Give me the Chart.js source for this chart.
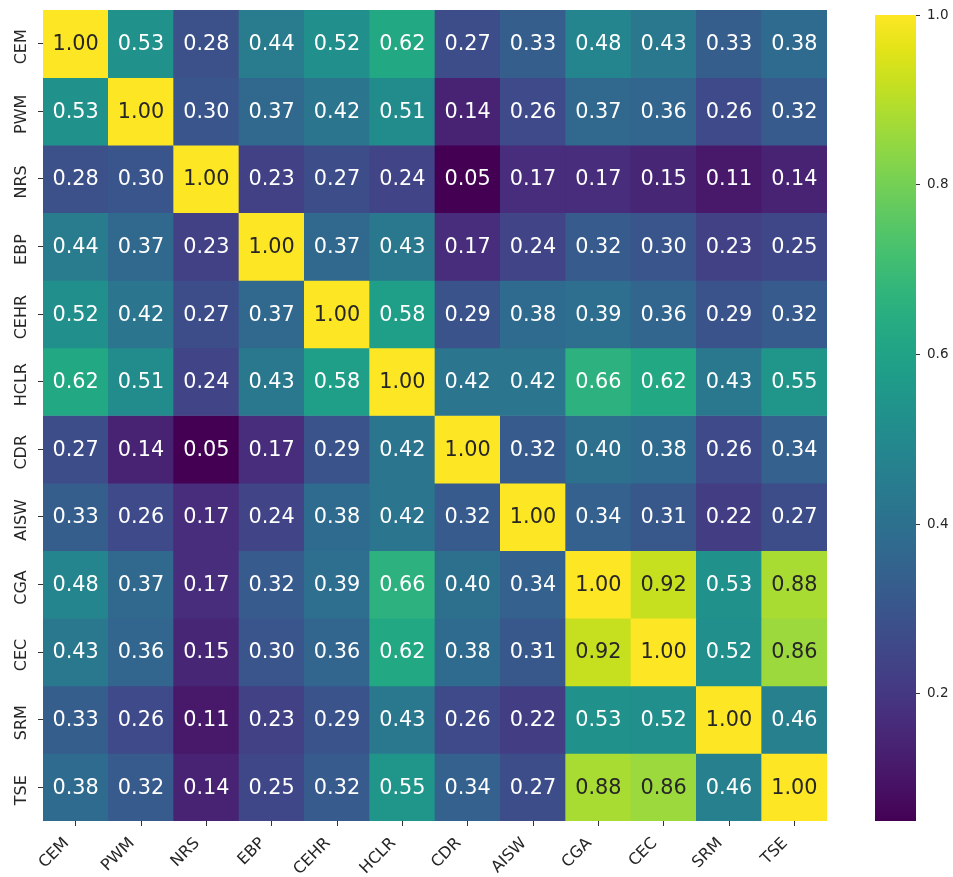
<!DOCTYPE html>
<html>
<head>
<meta charset="utf-8">
<title>Correlation heatmap</title>
<script src="https://cdn.jsdelivr.net/npm/chart.js@4.4.1/dist/chart.umd.min.js"></script>
<style>
  html, body { margin: 0; padding: 0; background: #ffffff; }
  #wrap { position: relative; width: 953px; height: 877px; }
  #heat { position: absolute; left: 0; top: 0; }
  #cbar { position: absolute; left: 860px; top: 0; }
</style>
</head>
<body>
<div id="wrap">
  <canvas id="heat" width="860" height="877"></canvas>
  <canvas id="cbar" width="93" height="877"></canvas>
</div>
<script>
// Variables (rows top to bottom, columns left to right)
const variables = ['CEM', 'PWM', 'NRS', 'EBP', 'CEHR', 'HCLR', 'CDR', 'AISW', 'CGA', 'CEC', 'SRM', 'TSE'];

// Pairwise correlation coefficients, one array per row
const rowCEM  = [1.00, 0.53, 0.28, 0.44, 0.52, 0.62, 0.27, 0.33, 0.48, 0.43, 0.33, 0.38];
const rowPWM  = [0.53, 1.00, 0.30, 0.37, 0.42, 0.51, 0.14, 0.26, 0.37, 0.36, 0.26, 0.32];
const rowNRS  = [0.28, 0.30, 1.00, 0.23, 0.27, 0.24, 0.05, 0.17, 0.17, 0.15, 0.11, 0.14];
const rowEBP  = [0.44, 0.37, 0.23, 1.00, 0.37, 0.43, 0.17, 0.24, 0.32, 0.30, 0.23, 0.25];
const rowCEHR = [0.52, 0.42, 0.27, 0.37, 1.00, 0.58, 0.29, 0.38, 0.39, 0.36, 0.29, 0.32];
const rowHCLR = [0.62, 0.51, 0.24, 0.43, 0.58, 1.00, 0.42, 0.42, 0.66, 0.62, 0.43, 0.55];
const rowCDR  = [0.27, 0.14, 0.05, 0.17, 0.29, 0.42, 1.00, 0.32, 0.40, 0.38, 0.26, 0.34];
const rowAISW = [0.33, 0.26, 0.17, 0.24, 0.38, 0.42, 0.32, 1.00, 0.34, 0.31, 0.22, 0.27];
const rowCGA  = [0.48, 0.37, 0.17, 0.32, 0.39, 0.66, 0.40, 0.34, 1.00, 0.92, 0.53, 0.88];
const rowCEC  = [0.43, 0.36, 0.15, 0.30, 0.36, 0.62, 0.38, 0.31, 0.92, 1.00, 0.52, 0.86];
const rowSRM  = [0.33, 0.26, 0.11, 0.23, 0.29, 0.43, 0.26, 0.22, 0.53, 0.52, 1.00, 0.46];
const rowTSE  = [0.38, 0.32, 0.14, 0.25, 0.32, 0.55, 0.34, 0.27, 0.88, 0.86, 0.46, 1.00];

// Colorbar tick values
const colorbarTicks = [0.2, 0.4, 0.6, 0.8, 1.0];

const matrix = [rowCEM, rowPWM, rowNRS, rowEBP, rowCEHR, rowHCLR, rowCDR, rowAISW, rowCGA, rowCEC, rowSRM, rowTSE];

const allValues = matrix.flat();
const vmin = Math.min(...allValues);
const vmax = Math.max(...allValues);

// Viridis colormap, sampled at 25 evenly spaced points
const viridisStops = [
  '#440154', '#471164', '#481f70', '#472d7b', '#443a83', '#404688', '#3b528b', '#365d8d',
  '#31688e', '#2c728e', '#287c8e', '#24868e', '#21908c', '#1f9a8a', '#20a486', '#27ad81',
  '#35b779', '#47c16e', '#5dc863', '#75d054', '#8fd744', '#aadc32', '#c7e020', '#e3e418', '#fde725'
];
const stopRGB = viridisStops.map(h => [parseInt(h.slice(1, 3), 16), parseInt(h.slice(3, 5), 16), parseInt(h.slice(5, 7), 16)]);

function viridisRGB(t) {
  t = Math.max(0, Math.min(1, t));
  const pos = t * (stopRGB.length - 1);
  const i = Math.min(Math.floor(pos), stopRGB.length - 2);
  const f = pos - i;
  const a = stopRGB[i], b = stopRGB[i + 1];
  return [0, 1, 2].map(k => Math.round(a[k] + (b[k] - a[k]) * f));
}
function colorFor(v) {
  const [r, g, b] = viridisRGB((v - vmin) / (vmax - vmin));
  return `rgb(${r},${g},${b})`;
}
function relativeLuminance(rgb) {
  const lin = c => { c /= 255; return c <= 0.03928 ? c / 12.92 : Math.pow((c + 0.055) / 1.055, 2.4); };
  return 0.2126 * lin(rgb[0]) + 0.7152 * lin(rgb[1]) + 0.0722 * lin(rgb[2]);
}
function textColorFor(v) {
  const lum = relativeLuminance(viridisRGB((v - vmin) / (vmax - vmin)));
  return lum > 0.408 ? '#262626' : '#ffffff';
}

const FONT = '"DejaVu Sans", "Liberation Sans", sans-serif';
const TICK_COLOR = '#262626';
const Y_TICK_LEN = 5;

// Measure the widest row label to centre the rotated labels left of the grid
const measure = document.createElement('canvas').getContext('2d');
measure.font = '16px ' + FONT;
const widestLabel = Math.max(...variables.map(s => measure.measureText(s).width));
const yLabelPadding = 43 - Y_TICK_LEN - 21.5 - widestLabel / 2;

// One floating-bar dataset per row; each bar spans [row, row + 1]
const datasets = matrix.map((row, r) => ({
  label: variables[r],
  data: row.map(() => [r, r + 1]),
  backgroundColor: row.map(colorFor),
  borderWidth: 0,
  barPercentage: 1,
  categoryPercentage: 1,
  grouped: false
}));

// Writes each coefficient in the centre of its cell
const cellText = {
  id: 'cellText',
  afterDatasetsDraw(chart) {
    const ctx = chart.ctx;
    ctx.save();
    ctx.font = '20.8px ' + FONT;
    ctx.textAlign = 'center';
    ctx.textBaseline = 'middle';
    chart.data.datasets.forEach((ds, r) => {
      chart.getDatasetMeta(r).data.forEach((bar, c) => {
        const v = matrix[r][c];
        const p = bar.getProps(['x', 'y', 'base'], true);
        ctx.fillStyle = textColorFor(v);
        ctx.fillText(v.toFixed(2), p.x, (p.y + p.base) / 2 + 1);
      });
    });
    ctx.restore();
  }
};

new Chart(document.getElementById('heat'), {
  type: 'bar',
  data: { labels: variables, datasets },
  plugins: [cellText],
  options: {
    responsive: false,
    animation: false,
    devicePixelRatio: 1,
    layout: { padding: { left: 0, top: 10, right: 33, bottom: 0 } },
    plugins: { legend: { display: false }, tooltip: { enabled: false } },
    scales: {
      x: {
        type: 'category',
        offset: true,
        afterFit(s) { s.height = 56; },
        grid: { offset: false, drawOnChartArea: false, drawTicks: true, tickLength: 5, color: '#333333' },
        border: { display: false },
        ticks: {
          autoSkip: false, minRotation: 45, maxRotation: 45, padding: 8, labelOffset: -9,
          color: TICK_COLOR, font: { family: FONT, size: 16 }
        }
      },
      y: {
        type: 'linear',
        reverse: true,
        min: 0,
        max: variables.length,
        afterFit(s) { s.width = 43; },
        afterBuildTicks(s) { s.ticks = variables.map((_, i) => ({ value: i + 0.5 })); },
        grid: { drawOnChartArea: false, drawTicks: true, tickLength: Y_TICK_LEN, color: '#333333' },
        border: { display: false },
        ticks: {
          autoSkip: false, minRotation: 90, maxRotation: 90, crossAlign: 'center',
          padding: yLabelPadding, labelOffset: 3,
          color: TICK_COLOR, font: { family: FONT, size: 16 },
          callback: (v, i) => variables[i]
        }
      }
    }
  }
});

// Colorbar: one floating bar from vmin to vmax filled with the colormap
function colorbarFill(context) {
  const chart = context.chart;
  const area = chart.chartArea;
  if (!area) return viridisStops[viridisStops.length - 1];
  const g = chart.ctx.createLinearGradient(0, area.bottom, 0, area.top);
  viridisStops.forEach((c, i) => g.addColorStop(i / (viridisStops.length - 1), c));
  return g;
}

new Chart(document.getElementById('cbar'), {
  type: 'bar',
  data: {
    labels: [''],
    datasets: [{
      data: [[vmin, vmax]],
      backgroundColor: colorbarFill,
      borderWidth: 0,
      barPercentage: 1,
      categoryPercentage: 1,
      inflateAmount: 0
    }]
  },
  options: {
    responsive: false,
    animation: false,
    devicePixelRatio: 1,
    layout: { padding: { left: 15, top: 10, right: 0, bottom: 56 } },
    plugins: { legend: { display: false }, tooltip: { enabled: false } },
    scales: {
      x: { display: false },
      y: {
        position: 'right',
        min: vmin,
        max: vmax,
        afterFit(s) { s.width = 37; },
        afterBuildTicks(s) { s.ticks = colorbarTicks.map(v => ({ value: v })); },
        grid: { drawOnChartArea: false, drawTicks: true, tickLength: 4, color: '#333333' },
        border: { display: false },
        ticks: {
          padding: 7, color: TICK_COLOR, font: { family: FONT, size: 13.5 },
          callback: v => v.toFixed(1)
        }
      }
    }
  }
});
</script>
</body>
</html>
